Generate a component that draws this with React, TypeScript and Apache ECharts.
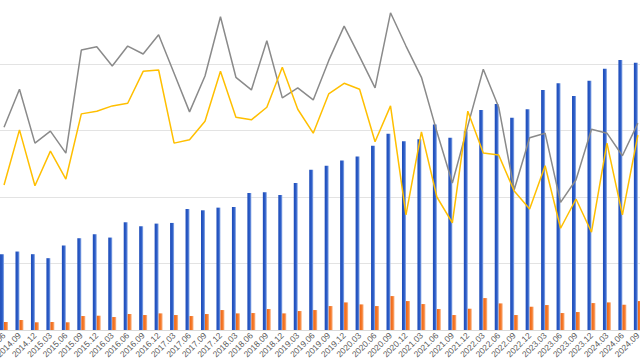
import React, { useEffect, useRef } from "react";
import * as echarts from "echarts";

const categories: string[] = [
  "2014.06", "2014.09", "2014.12",
  "2015.03", "2015.06", "2015.09", "2015.12",
  "2016.03", "2016.06", "2016.09", "2016.12",
  "2017.03", "2017.06", "2017.09", "2017.12",
  "2018.03", "2018.06", "2018.09", "2018.12",
  "2019.03", "2019.06", "2019.09", "2019.12",
  "2020.03", "2020.06", "2020.09", "2020.12",
  "2021.03", "2021.06", "2021.09", "2021.12",
  "2022.03", "2022.06", "2022.09", "2022.12",
  "2023.03", "2023.06", "2023.09", "2023.12",
  "2024.03", "2024.06", "2024.09",
];

const blueBars: number[] = [
  11.4, 11.8, 11.4, 10.8, 12.7, 13.8, 14.4, 13.9, 16.2, 15.6, 16.0, 16.1,
  18.2, 18.0, 18.4, 18.5, 20.6, 20.7, 20.3, 22.1, 24.1, 24.7, 25.5, 26.1,
  27.7, 29.5, 28.4, 28.7, 30.9, 28.9, 29.9, 33.1, 34.0, 31.9, 33.2, 36.1,
  37.1, 35.2, 37.5, 39.3, 40.6, 40.2,
];

const orangeBars: number[] = [
  1.2, 1.5, 1.16, 1.2, 1.16, 2.1, 2.15, 1.95, 2.4, 2.25, 2.5, 2.25,
  2.1, 2.4, 3.0, 2.5, 2.55, 3.15, 2.5, 2.85, 3.0, 3.6, 4.15, 3.85,
  3.6, 5.1, 4.35, 3.9, 3.15, 2.25, 3.2, 4.8, 4.0, 2.25, 3.5, 3.75,
  2.55, 2.7, 4.05, 4.15, 3.8, 4.35,
];

const grayLine: number[] = [
  30.5, 36.2, 28.1, 29.9, 26.6, 42.1, 42.6, 39.7, 42.7, 41.5, 44.4, 38.6,
  32.8, 38.2, 47.1, 38.0, 36.1, 43.5, 34.9, 36.4, 34.6, 40.5, 45.7, 41.1,
  36.4, 47.7, 42.7, 38.0, 29.8, 22.1, 30.7, 39.2, 33.5, 21.1, 28.9, 29.6,
  19.2, 22.6, 30.2, 29.6, 26.2, 31.1,
];

const yellowLine: number[] = [
  21.8, 30.1, 21.7, 26.9, 22.7, 32.5, 32.9, 33.7, 34.1, 38.9, 39.1, 28.1,
  28.6, 31.4, 38.9, 32.0, 31.6, 33.5, 39.5, 33.2, 29.6, 35.5, 37.1, 36.2,
  28.3, 33.7, 17.3, 29.8, 20.0, 16.1, 32.9, 26.6, 26.3, 20.9, 18.2, 24.7,
  15.3, 19.7, 14.7, 28.1, 17.3, 29.3,
];

export default function App() {
  const ref = useRef<HTMLDivElement>(null);

  useEffect(() => {
    if (!ref.current) return;
    const chart = echarts.init(ref.current, undefined, { renderer: "svg" });
    const blueGrad = new echarts.graphic.LinearGradient(0, 0, 1, 0, [
      { offset: 0, color: "#1d4bb8" },
      { offset: 0.6, color: "#2e5fc9" },
      { offset: 1, color: "#9db7ea" },
    ]);
    const orangeGrad = new echarts.graphic.LinearGradient(0, 0, 1, 0, [
      { offset: 0, color: "#ee6414" },
      { offset: 0.6, color: "#f57d2e" },
      { offset: 1, color: "#fbc19b" },
    ]);
    chart.setOption({
      animation: false,
      backgroundColor: "#ffffff",
      grid: {
        left: -3.7,
        right: -5.6,
        top: -2.5,
        bottom: 30,
        containLabel: false,
        outerBoundsMode: "none",
      },
      xAxis: {
        type: "category",
        data: categories,
        boundaryGap: true,
        axisLine: { show: true, lineStyle: { color: "#d9d9d9", width: 1 } },
        axisTick: { show: false },
        axisLabel: {
          interval: 0,
          rotate: 45,
          fontSize: 8.5,
          color: "#595959",
          fontFamily: "Liberation Sans, Arial, sans-serif",
          margin: 4,
        },
      },
      yAxis: [
        {
          type: "value",
          min: 0,
          max: 50,
          interval: 10,
          axisLabel: { show: false },
          axisLine: { show: false },
          axisTick: { show: false },
          splitLine: { show: true, lineStyle: { color: "#e3e3e3", width: 1 } },
        },
        {
          type: "value",
          min: 0,
          max: 50,
          interval: 10,
          show: false,
          splitLine: { show: false },
        },
      ],
      series: [
        {
          type: "bar",
          data: blueBars,
          barWidth: 4,
          barGap: "0%",
          itemStyle: { color: blueGrad },
          z: 2,
        },
        {
          type: "bar",
          data: orangeBars,
          barWidth: 4,
          barGap: "0%",
          itemStyle: { color: orangeGrad },
          z: 2,
        },
        {
          type: "line",
          yAxisIndex: 1,
          data: grayLine,
          showSymbol: false,
          symbol: "none",
          lineStyle: { color: "#8a8a8a", width: 1.5 },
          z: 3,
        },
        {
          type: "line",
          yAxisIndex: 1,
          data: yellowLine,
          showSymbol: false,
          symbol: "none",
          lineStyle: { color: "#ffbf00", width: 1.5 },
          z: 4,
        },
      ],
    });
    return () => chart.dispose();
  }, []);

  return (
    <div
      ref={ref}
      style={{ width: 640, height: 360, position: "absolute", left: 0, top: 0 }}
    />
  );
}
